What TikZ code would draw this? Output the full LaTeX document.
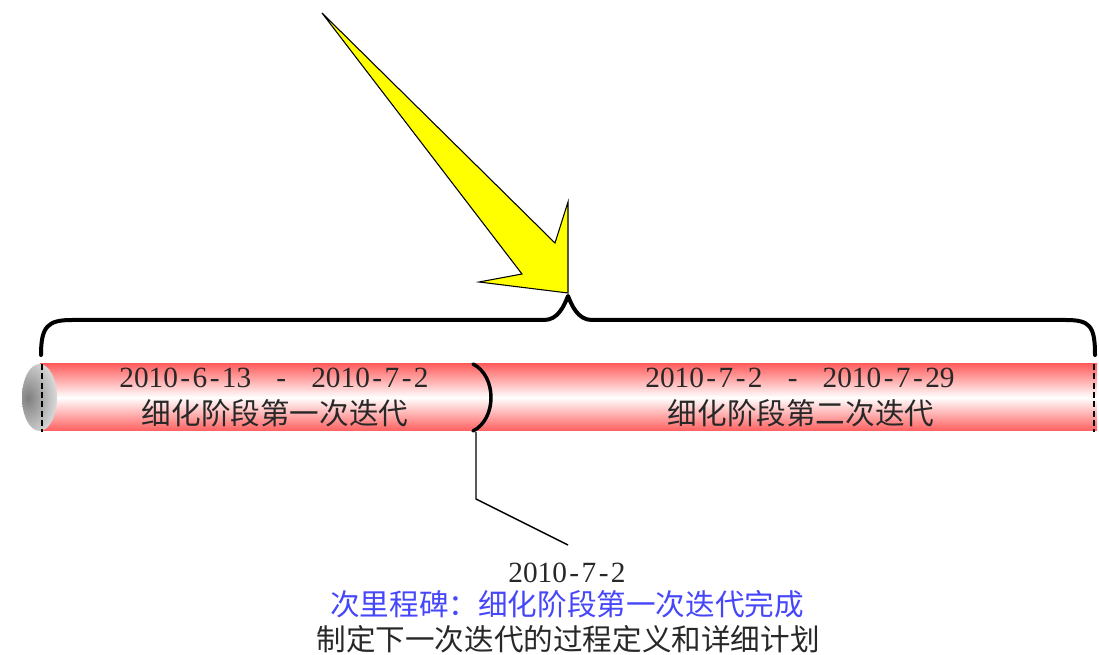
\documentclass[tikz,border=0pt]{standalone}
\usepackage{fontspec}
\setmainfont{Liberation Serif}
\newfontfamily\cjk{Noto Sans CJK SC}
\newcommand{\hy}{\makebox[0.5em]{-}}
\definecolor{barred}{RGB}{255,95,95}
\definecolor{txt}{RGB}{40,40,40}
\definecolor{msblue}{RGB}{70,70,250}
\definecolor{arrowyellow}{RGB}{255,255,0}
\tikzset{
  datetext/.style={font=\fontsize{22}{26}\selectfont, text=txt, inner sep=0pt, anchor=base},
  cjktext/.style={font=\cjk\fontsize{22.2}{26}\selectfont, text=txt, inner sep=0pt, anchor=base},
  bracepath/.style={line width=3pt, line cap=round, line join=round},
  endline/.style={line width=1.4pt, dash pattern=on 4.5pt off 2.5pt},
  leader/.style={line width=1.1pt},
  bigarrow/.style={fill=arrowyellow, draw=black, line width=0.8pt, line join=miter},
}
\begin{document}
\begin{tikzpicture}[x=0.75pt,y=-0.75pt]
\useasboundingbox (0,0) rectangle (1099,655);
% bar
\shade[top color=barred, bottom color=barred, middle color=white] (40,364) rectangle (1097,431);
% left end cap
\begin{scope}
  \clip (39.5,397.5) ellipse [x radius=17.5, y radius=33.5];
  \shade[inner color=black!50, outer color=black!4] (28,398) ellipse [x radius=38, y radius=55];
\end{scope}
\draw[endline] (42,364) -- (42,432);
\draw[endline] (1094,364) -- (1094,432);
% divider between iterations
\coordinate (m1) at (476,432);
\coordinate (m2) at (476,499);
\coordinate (m3) at (568,545);
\draw[line width=2.6pt, line cap=round] (473,364) .. controls (497,376) and (497,419) .. (473,431);
\draw[leader] (m1) -- (m2) -- (m3);
% brace
\coordinate (btip) at (568,296);
\draw[bracepath] (41,355) .. controls (41,326) and (48,320) .. (72,320) -- (544,320)
  .. controls (558,320) and (564,306) .. (btip)
  .. controls (572,306) and (578,320) .. (592,320) -- (1066,320)
  .. controls (1090,320) and (1095,326) .. (1095,355);
% big yellow arrow
\draw[bigarrow] (322,13) -- (522,274) -- (479,282) -- (568,293) -- (568,202) -- (555,243) -- cycle;
% texts in bar
\node[datetext] (d1) at (274,388) {2010\hy6\hy13\hspace{17pt}\hy\hspace{17pt}2010\hy7\hy2};
\node[cjktext] (c1) at (275,425) {细化阶段第一次迭代};
\node[datetext] (d2) at (800,388) {2010\hy7\hy2\hspace{17pt}\hy\hspace{17pt}2010\hy7\hy29};
\node[cjktext] (c2) at (801,425) {细化阶段第二次迭代};
% milestone label
\node[datetext] (lbl) at (567,582) {2010\hy7\hy2};
\node[cjktext, text=msblue] (ms) at (567,615) {次里程碑：细化阶段第一次迭代完成};
\node[cjktext] (plan) at (568,650) {制定下一次迭代的过程定义和详细计划};
\end{tikzpicture}
\end{document}
